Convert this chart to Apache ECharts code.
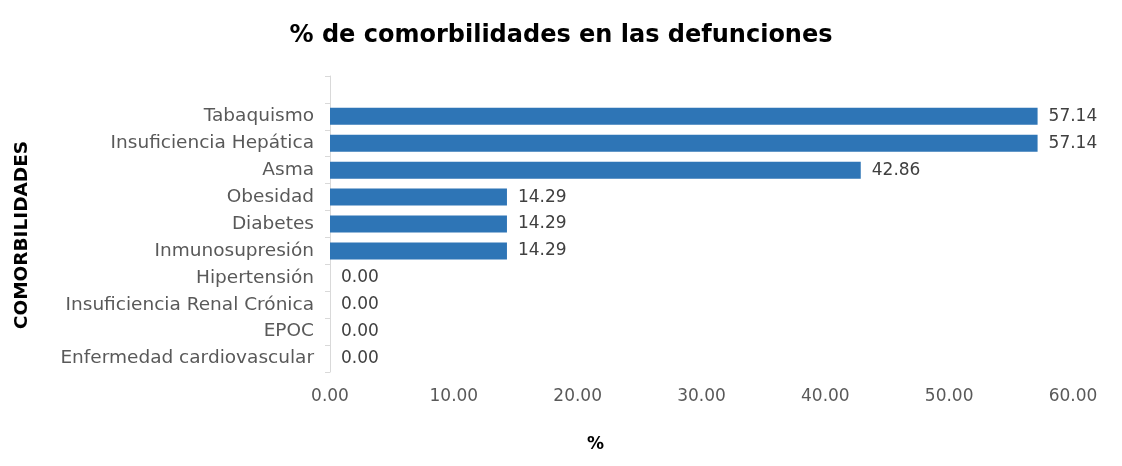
<!DOCTYPE html>
<html><head><meta charset="utf-8">
<script src="https://cdn.jsdelivr.net/npm/echarts@6/dist/echarts.min.js"></script>
<style>html,body{margin:0;padding:0;background:#fff}#c{width:1122px;height:466px}</style>
</head><body><div id="c"></div>
<script>
const categories = ['Enfermedad cardiovascular','EPOC','Insuficiencia Renal Crónica','Hipertensión','Inmunosupresión','Diabetes','Obesidad','Asma','Insuficiencia Hepática','Tabaquismo',''];
const values = [0.00,0.00,0.00,0.00,14.29,14.29,14.29,42.86,57.14,57.14,null];
const xTicks = [0,10,20,30,40,50,60];
const titleText = '% de comorbilidades en las defunciones';
const yName = 'COMORBILIDADES';
const xName = '%';

const FONT = 'DejaVu Sans';
const FS = 17;
const chart = echarts.init(document.getElementById('c'));
chart.setOption({
  animation:false,
  backgroundColor:'#fff',
  title:{text:titleText,left:556,top:19,textAlign:'center',
    textStyle:{fontFamily:'DejaVu Sans',fontWeight:'bold',fontSize:24,color:'#000'}},
  grid:{left:330,right:49,top:76,bottom:94,containLabel:false},
  xAxis:{type:'value',min:xTicks[0],max:xTicks[xTicks.length-1],interval:10,
    axisLine:{show:false},axisTick:{show:false},splitLine:{show:false},
    axisLabel:{formatter:v=>v.toFixed(2),color:'#595959',fontFamily:FONT,fontSize:FS,margin:16}},
  yAxis:{type:'category',data:categories,
    axisLine:{show:true,lineStyle:{color:'#d9d9d9',width:1}},
    axisTick:{show:true,length:5,lineStyle:{color:'#d9d9d9'}},
    axisLabel:{color:'#595959',fontFamily:FONT,fontSize:18.5,margin:16}},
  series:[{type:'bar',data:values,barWidth:17,itemStyle:{color:'#2e75b6'},
    label:{show:true,position:'right',distance:11,color:'#404040',fontFamily:FONT,fontSize:FS,
      formatter:p=>p.value==null?'':Number(p.value).toFixed(2)}}],
  graphic:[
    {type:'text',left:587,top:436,style:{text:xName,font:'bold 17px "DejaVu Sans"',fill:'#000'}},
    {type:'text',x:22,y:235,rotation:Math.PI/2,style:{text:yName,font:'bold 18.5px "DejaVu Sans"',fill:'#000',align:'center',verticalAlign:'middle'}}
  ]
});
</script></body></html>
